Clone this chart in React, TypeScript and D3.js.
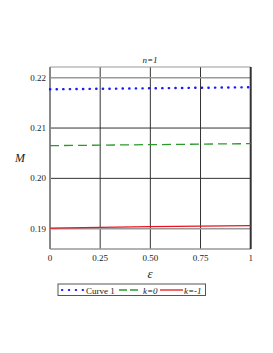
import React from "react";
import * as d3 from "d3";

const eps = [0, 0.25, 0.5, 0.75, 1];
const curve1 = [0.2177, 0.2178, 0.2179, 0.218, 0.2181];
const kZero = [0.2065, 0.2066, 0.2067, 0.2068, 0.2069];
const kMinus = [0.1901, 0.19025, 0.1904, 0.1905, 0.1906];
const xTicks = [0, 0.25, 0.5, 0.75, 1];
const xTickLabels = ["0", "0.25", "0.50", "0.75", "1"];
const yTicks = [0.19, 0.2, 0.21, 0.22];
const yTickLabels = ["0.19", "0.20", "0.21", "0.22"];

export default function App() {
  const width = 273;
  const height = 353;
  const left = 50;
  const right = 250.7;
  const top = 67;
  const bottom = 249;

  const x = d3.scaleLinear().domain([0, 1]).range([left, right]);
  const y = d3.scaleLinear().domain([0.19, 0.22]).range([228.7, 77.7]);

  const line = d3
    .line<number>()
    .x((_, i) => x(eps[i]))
    .y((d) => y(d));

  const series = [
    { vals: curve1, color: "#1a1aff", dash: "0.3,6.3", w: 2.4, cap: "round" },
    { vals: kZero, color: "#2a9a2a", dash: "9,5", w: 1.3, cap: "butt" },
    { vals: kMinus, color: "#e8141e", dash: "none", w: 1.3, cap: "butt" },
  ];

  return (
    <svg
      width={width}
      height={height}
      style={{ position: "absolute", left: 0, top: 0, background: "#fff" }}
      fontFamily="'Liberation Serif', 'DejaVu Serif', serif"
    >
      {/* grid */}
      {xTicks.slice(1, -1).map((t) => (
        <line key={"gx" + t} x1={x(t)} x2={x(t)} y1={top} y2={bottom} stroke="#333" strokeWidth={1} />
      ))}
      {yTicks.map((t, i) => (
        <line
          key={"gy" + t}
          x1={left}
          x2={right}
          y1={y(t)}
          y2={y(t)}
          stroke={i === 0 || i === 3 ? "#999" : "#333"}
          strokeWidth={i === 0 || i === 3 ? 1.6 : 1}
        />
      ))}
      {/* frame */}
      <line x1={left} x2={right} y1={top} y2={top} stroke="#999" strokeWidth={1} />
      <line x1={left} x2={right} y1={bottom} y2={bottom} stroke="#999" strokeWidth={1.5} />
      <line x1={left} x2={left} y1={top} y2={bottom} stroke="#888" strokeWidth={2} />
      <line x1={right} x2={right} y1={top} y2={bottom} stroke="#333" strokeWidth={2} />

      {/* curves */}
      {series.map((s, i) => (
        <path
          key={i}
          d={line(s.vals) || ""}
          fill="none"
          stroke={s.color}
          strokeWidth={s.w}
          strokeDasharray={s.dash}
          strokeLinecap={s.cap as any}
        />
      ))}

      {/* tick labels */}
      {yTicks.map((t, i) => (
        <text key={"yl" + t} x={left - 4} y={y(t) + 3} fontSize={9} textAnchor="end" fill="#222">
          {yTickLabels[i]}
        </text>
      ))}
      {xTicks.map((t, i) => (
        <text key={"xl" + t} x={x(t)} y={261} fontSize={9} textAnchor="middle" fill="#222">
          {xTickLabels[i]}
        </text>
      ))}

      {/* titles */}
      <text x={150} y={63} fontSize={9} fontStyle="italic" textAnchor="middle" fill="#222">
        n=1
      </text>
      <text x={20} y={162} fontSize={12} fontStyle="italic" textAnchor="middle" fill="#222">
        M
      </text>
      <text x={150} y={278} fontSize={13} fontStyle="italic" textAnchor="middle" fill="#222">
        ε
      </text>

      {/* legend */}
      <rect x={58} y={284} width={147.5} height={11.5} fill="#fff" stroke="#555" strokeWidth={1} />
      <line x1={62} x2={83} y1={290} y2={290} stroke="#1a1aff" strokeWidth={2.2} strokeDasharray="0.3,6.6" strokeLinecap="round" />
      <text x={86} y={293.5} fontSize={9} fill="#222">Curve 1</text>
      <line x1={119} x2={141} y1={290} y2={290} stroke="#2a9a2a" strokeWidth={1.3} strokeDasharray="8,3" />
      <text x={143} y={293.5} fontSize={9} fontStyle="italic" fill="#222">k=0</text>
      <line x1={160} x2={183} y1={290} y2={290} stroke="#e8141e" strokeWidth={1.3} />
      <text x={184} y={293.5} fontSize={9} fontStyle="italic" fill="#222">k=-1</text>
    </svg>
  );
}
